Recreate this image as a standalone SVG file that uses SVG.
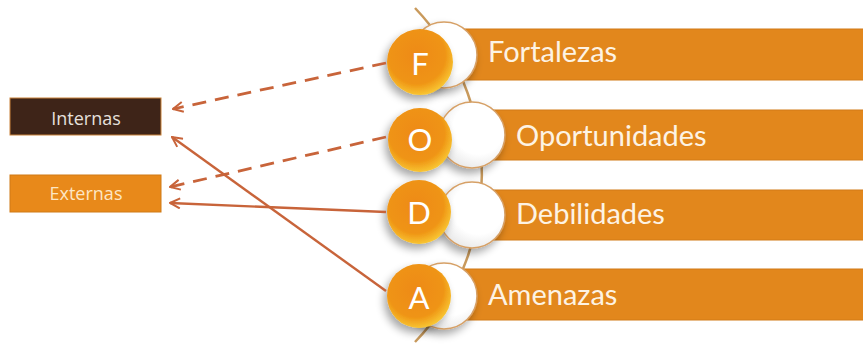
<svg xmlns="http://www.w3.org/2000/svg" width="863" height="345" viewBox="0 0 863 345">
<defs>
<style>
.bar{fill:#e2871c;stroke:#d27a16;stroke-width:1}
.wc{fill:url(#wg);stroke:#d6a066;stroke-width:1.5;filter:url(#sh)}
.oc{fill:url(#og);filter:url(#sh)}
.lt{font-family:Lato,"Open Sans",sans-serif;font-size:31px;fill:#fff;text-anchor:middle}
.bt{font-family:Lato,"Open Sans",sans-serif;font-size:29px;fill:#fdf3e4}
.bx{font-family:"Open Sans",Lato,sans-serif;font-size:18px;text-anchor:middle}
.arr{fill:none;stroke:#c8643a;stroke-width:2.4;marker-end:url(#ah)}
.dash{stroke-dasharray:14 9;stroke-width:2.8}
</style>
<radialGradient id="og" cx="0.45" cy="0.4" r="0.6">
<stop offset="0" stop-color="#ee8a12"/>
<stop offset="0.72" stop-color="#ef9414"/>
<stop offset="1" stop-color="#f8c432"/>
</radialGradient>
<radialGradient id="wg" cx="0.6" cy="0.4" r="0.65">
<stop offset="0.6" stop-color="#ffffff"/>
<stop offset="1" stop-color="#e8e8e8"/>
</radialGradient>
<filter id="sh" x="-40%" y="-40%" width="180%" height="180%">
<feGaussianBlur in="SourceAlpha" stdDeviation="4"/>
<feOffset dx="-3" dy="5" result="b"/>
<feComponentTransfer><feFuncA type="linear" slope="0.35"/></feComponentTransfer>
<feMerge><feMergeNode/><feMergeNode in="SourceGraphic"/></feMerge>
</filter>
<marker id="ah" viewBox="0 0 12 12" refX="11" refY="6" markerWidth="12" markerHeight="12" markerUnits="userSpaceOnUse" orient="auto">
<path d="M1,1 L11,6 L1,11" fill="none" stroke="#c8643a" stroke-width="2"/>
</marker>
</defs>
<rect width="863" height="345" fill="#fff"/>

<path d="M415,8 A242,242 0 0 1 415,342" fill="none" stroke="#c99a5c" stroke-width="2.5"/>

<g id="bar-f"><rect class="bar" x="460" y="29" width="410" height="51"/></g>
<g id="bar-o"><rect class="bar" x="480" y="110" width="390" height="50"/></g>
<g id="bar-d"><rect class="bar" x="480" y="190" width="390" height="50"/></g>
<g id="bar-a"><rect class="bar" x="460" y="269" width="410" height="51"/></g>

<g id="node-f">
<circle class="wc" cx="444" cy="55" r="33"/>
<circle class="oc" cx="420" cy="62" r="33"/>
<text class="lt" x="420" y="75">F</text>
<text class="bt" x="488" y="62">Fortalezas</text>
</g>
<g id="node-o">
<circle class="wc" cx="472" cy="135" r="33"/>
<circle class="oc" cx="420" cy="140" r="32"/>
<text class="lt" x="420" y="151">O</text>
<text class="bt" x="516" y="146">Oportunidades</text>
</g>
<g id="node-d">
<circle class="wc" cx="472" cy="215" r="33"/>
<circle class="oc" cx="419" cy="212" r="32"/>
<text class="lt" x="419" y="224">D</text>
<text class="bt" x="516" y="224">Debilidades</text>
</g>
<g id="node-a">
<circle class="wc" cx="444" cy="296" r="33"/>
<circle class="oc" cx="419" cy="296" r="32"/>
<text class="lt" x="419" y="309">A</text>
<text class="bt" x="488" y="305">Amenazas</text>
</g>

<g id="internas">
<rect x="10" y="98" width="151" height="37" fill="#3e2418" stroke="#c9823a" stroke-width="1"/>
<text class="bx" x="86" y="125" fill="#e6e0dc">Internas</text>
</g>
<g id="externas">
<rect x="10" y="175" width="151" height="37" fill="#e8891a" stroke="#d07a16" stroke-width="1"/>
<text class="bx" x="86" y="200" fill="#fde6c4">Externas</text>
</g>

<g id="connectors">
<path class="arr dash" d="M386,63 L173,109"/>
<path class="arr dash" d="M386,137 L170,187"/>
<path class="arr" d="M386,212 L170,203"/>
<path class="arr" d="M386,291 L172,137"/>
</g>
</svg>
